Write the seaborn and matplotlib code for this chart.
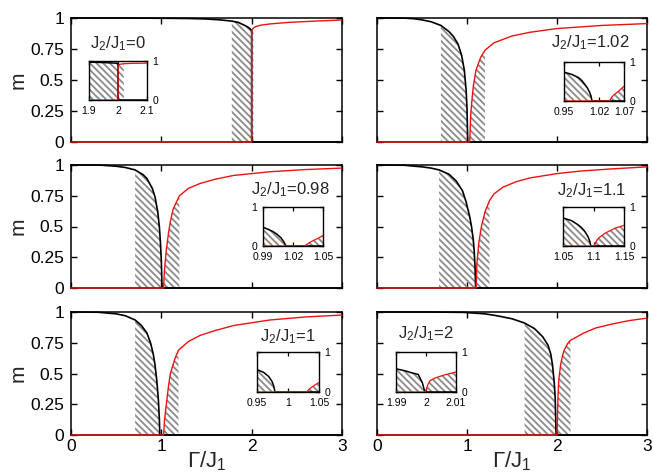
import matplotlib
matplotlib.use('Agg')
import matplotlib.pyplot as plt
import seaborn as sns
import numpy as np

# ---------------- data ----------------
ratio_labels = ['0', '1.02', '0.98', '1.1', '1', '2']
main_xticks = [0, 1, 2, 3]
main_xticklabels = ['0', '1', '2', '3']
main_yticks = [0, 0.25, 0.5, 0.75, 1]
main_yticklabels = ['0', '0.25', '0.5', '0.75', '1']

# Panel J2/J1 = 0
p1_black_x = [0.0, 0.5, 1.0, 1.3, 1.5, 1.65, 1.78, 1.85, 1.91, 1.95, 1.98, 2.0, 2.0, 3.0]
p1_black_m = [1.0, 1.0, 0.998, 0.996, 0.992, 0.985, 0.975, 0.965, 0.945, 0.93, 0.915, 0.9, 0.0, 0.0]
p1_red_x = [0.0, 2.0, 2.0, 2.005, 2.02, 2.05, 2.1, 2.2, 2.4, 2.7, 3.0]
p1_red_m = [0.0, 0.0, 0.89, 0.905, 0.92, 0.932, 0.942, 0.952, 0.964, 0.975, 0.984]
p1_hatch = [1.78, 2.02]
i1_range = [1.9, 2.0, 2.1]
i1_ticklabels = ['1.9', '2', '2.1']
i1_black_x = [1.9, 1.95, 1.98, 2.0, 2.0, 2.1]
i1_black_m = [0.97, 0.96, 0.95, 0.94, 0.0, 0.0]
i1_red_x = [1.9, 2.0, 2.0, 2.005, 2.02, 2.05, 2.1]
i1_red_m = [0.0, 0.0, 0.86, 0.915, 0.93, 0.94, 0.945]

# Panel J2/J1 = 1.02
p2_black_x = [0.0, 0.3, 0.4, 0.5, 0.6, 0.71, 0.8, 0.85, 0.9, 0.94, 0.97, 0.99, 1.0, 1.008, 3.0]
p2_black_m = [1.0, 0.999, 0.995, 0.985, 0.97, 0.94, 0.89, 0.85, 0.79, 0.7, 0.58, 0.42, 0.27, 0.0, 0.0]
p2_red_x = [0.0, 1.03, 1.04, 1.05, 1.07, 1.1, 1.15, 1.2, 1.3, 1.5, 1.7, 2.0, 2.5, 3.0]
p2_red_m = [0.0, 0.0, 0.2, 0.3, 0.45, 0.58, 0.68, 0.74, 0.8, 0.855, 0.885, 0.915, 0.94, 0.955]
p2_hatch = [0.71, 1.2]
i2_range = [0.95, 1.02, 1.07]
i2_ticklabels = ['0.95', '1.02', '1.07']
i2_black_x = [0.95, 0.966, 0.979, 0.986, 0.992, 0.997, 1.001, 1.004, 1.006, 1.07]
i2_black_m = [0.74, 0.68, 0.6, 0.52, 0.42, 0.33, 0.23, 0.13, 0.0, 0.0]
i2_red_x = [0.95, 1.041, 1.045, 1.049, 1.059, 1.07]
i2_red_m = [0.0, 0.0, 0.09, 0.15, 0.25, 0.38]

# Panel J2/J1 = 0.98
p3_black_x = [0.0, 0.3, 0.5, 0.6, 0.71, 0.8, 0.84, 0.9, 0.93, 0.96, 0.978, 0.99, 1.0, 1.008, 3.0]
p3_black_m = [1.0, 1.0, 0.99, 0.98, 0.96, 0.92, 0.89, 0.81, 0.74, 0.62, 0.5, 0.37, 0.22, 0.0, 0.0]
p3_red_x = [0.0, 1.025, 1.035, 1.055, 1.08, 1.1, 1.13, 1.2, 1.3, 1.43, 1.6, 1.8, 2.2, 2.6, 3.0]
p3_red_m = [0.0, 0.0, 0.15, 0.31, 0.45, 0.54, 0.64, 0.75, 0.81, 0.85, 0.885, 0.915, 0.945, 0.963, 0.975]
p3_hatch = [0.71, 1.2]
i3_range = [0.99, 1.02, 1.05]
i3_ticklabels = ['0.99', '1.02', '1.05']
i3_black_x = [0.99, 0.995, 1.0, 1.004, 1.008, 1.011, 1.013, 1.05]
i3_black_m = [0.48, 0.43, 0.37, 0.3, 0.21, 0.1, 0.0, 0.0]
i3_red_x = [0.99, 1.0317, 1.035, 1.038, 1.042, 1.046, 1.05]
i3_red_m = [0.0, 0.0, 0.06, 0.11, 0.16, 0.21, 0.27]

# Panel J2/J1 = 1.1
p4_black_x = [0.0, 0.3, 0.5, 0.6, 0.69, 0.8, 0.88, 0.95, 0.99, 1.03, 1.05, 1.07, 1.08, 1.09, 1.096, 3.0]
p4_black_m = [1.0, 0.998, 0.985, 0.975, 0.96, 0.925, 0.87, 0.79, 0.7, 0.58, 0.5, 0.39, 0.3, 0.16, 0.0, 0.0]
p4_red_x = [0.0, 1.101, 1.11, 1.13, 1.16, 1.2, 1.25, 1.3, 1.4, 1.55, 1.7, 2.0, 2.25, 2.6, 3.0]
p4_red_m = [0.0, 0.0, 0.2, 0.36, 0.5, 0.62, 0.71, 0.765, 0.82, 0.865, 0.895, 0.93, 0.95, 0.968, 0.985]
p4_hatch = [0.69, 1.25]
i4_range = [1.05, 1.1, 1.15]
i4_ticklabels = ['1.05', '1.1', '1.15']
i4_black_x = [1.05, 1.064, 1.075, 1.081, 1.086, 1.091, 1.094, 1.0956, 1.15]
i4_black_m = [0.72, 0.65, 0.54, 0.46, 0.37, 0.24, 0.12, 0.0, 0.0]
i4_red_x = [1.05, 1.101, 1.104, 1.108, 1.119, 1.136, 1.15]
i4_red_m = [0.0, 0.0, 0.11, 0.2, 0.33, 0.46, 0.53]

# Panel J2/J1 = 1
p5_black_x = [0.0, 0.3, 0.5, 0.6, 0.71, 0.78, 0.84, 0.88, 0.91, 0.93, 0.95, 0.967, 0.978, 0.983, 3.0]
p5_black_m = [1.0, 0.998, 0.985, 0.97, 0.935, 0.89, 0.83, 0.75, 0.66, 0.57, 0.44, 0.29, 0.13, 0.0, 0.0]
p5_red_x = [0.0, 1.025, 1.035, 1.06, 1.08, 1.1, 1.15, 1.19, 1.3, 1.43, 1.6, 1.8, 2.2, 2.6, 3.0]
p5_red_m = [0.0, 0.0, 0.12, 0.28, 0.4, 0.5, 0.62, 0.69, 0.76, 0.81, 0.85, 0.89, 0.935, 0.96, 0.975]
p5_hatch = [0.71, 1.19]
i5_range = [0.95, 1.0, 1.05]
i5_ticklabels = ['0.95', '1', '1.05']
i5_black_x = [0.95, 0.9607, 0.9687, 0.974, 0.977, 0.979, 1.05]
i5_black_m = [0.56, 0.49, 0.39, 0.27, 0.15, 0.0, 0.0]
i5_red_x = [0.95, 1.0302, 1.034, 1.038, 1.044, 1.05]
i5_red_m = [0.0, 0.0, 0.07, 0.12, 0.18, 0.24]

# Panel J2/J1 = 2
p6_black_x = [0.0, 0.6, 0.96, 1.2, 1.33, 1.5, 1.64, 1.75, 1.84, 1.9, 1.93, 1.95, 1.97, 1.98, 1.99, 3.0]
p6_black_m = [1.0, 1.0, 0.997, 0.985, 0.97, 0.945, 0.91, 0.865, 0.8, 0.73, 0.66, 0.57, 0.42, 0.3, 0.0, 0.0]
p6_red_x = [0.0, 2.0, 2.01, 2.02, 2.04, 2.06, 2.08, 2.12, 2.15, 2.3, 2.43, 2.6, 2.8, 3.0]
p6_red_m = [0.0, 0.0, 0.3, 0.45, 0.57, 0.64, 0.69, 0.745, 0.77, 0.83, 0.87, 0.9, 0.93, 0.95]
p6_hatch = [1.64, 2.15]
i6_range = [1.99, 2.0, 2.01]
i6_ticklabels = ['1.99', '2', '2.01']
i6_black_x = [1.99, 1.993, 1.9952, 1.9974, 1.998, 1.9988, 1.9994, 1.9998, 2.01]
i6_black_m = [0.58, 0.53, 0.48, 0.44, 0.35, 0.23, 0.06, 0.0, 0.0]
i6_red_x = [1.99, 1.9998, 2.0006, 2.0013, 2.003, 2.0058, 2.01]
i6_red_m = [0.0, 0.0, 0.18, 0.28, 0.35, 0.42, 0.5]

# ---------------- style ----------------
sns.set_theme(style='white')
plt.rcParams.update({
    'font.family': ['Liberation Sans', 'DejaVu Sans'],
    'mathtext.fontset': 'custom',
    'mathtext.rm': 'Liberation Sans',
    'mathtext.it': 'Liberation Sans:italic',
    'hatch.color': '#8a8a8a',
    'hatch.linewidth': 1.3,
    'axes.linewidth': 1.1,
    'axes.edgecolor': 'black',
    'xtick.color': 'black',
    'ytick.color': 'black',
})

HATCH_COLOR = '#8a8a8a'
HATCH = '\\' * 5
RED = '#ee1111'

panels = [
    dict(bx=p1_black_x, bm=p1_black_m, rx=p1_red_x, rm=p1_red_m, hatch=p1_hatch,
         irange=i1_range, itl=i1_ticklabels, ibx=i1_black_x, ibm=i1_black_m, irx=i1_red_x, irm=i1_red_m),
    dict(bx=p2_black_x, bm=p2_black_m, rx=p2_red_x, rm=p2_red_m, hatch=p2_hatch,
         irange=i2_range, itl=i2_ticklabels, ibx=i2_black_x, ibm=i2_black_m, irx=i2_red_x, irm=i2_red_m),
    dict(bx=p3_black_x, bm=p3_black_m, rx=p3_red_x, rm=p3_red_m, hatch=p3_hatch,
         irange=i3_range, itl=i3_ticklabels, ibx=i3_black_x, ibm=i3_black_m, irx=i3_red_x, irm=i3_red_m),
    dict(bx=p4_black_x, bm=p4_black_m, rx=p4_red_x, rm=p4_red_m, hatch=p4_hatch,
         irange=i4_range, itl=i4_ticklabels, ibx=i4_black_x, ibm=i4_black_m, irx=i4_red_x, irm=i4_red_m),
    dict(bx=p5_black_x, bm=p5_black_m, rx=p5_red_x, rm=p5_red_m, hatch=p5_hatch,
         irange=i5_range, itl=i5_ticklabels, ibx=i5_black_x, ibm=i5_black_m, irx=i5_red_x, irm=i5_red_m),
    dict(bx=p6_black_x, bm=p6_black_m, rx=p6_red_x, rm=p6_red_m, hatch=p6_hatch,
         irange=i6_range, itl=i6_ticklabels, ibx=i6_black_x, ibm=i6_black_m, irx=i6_red_x, irm=i6_red_m),
]

W, H = 653, 476
fig = plt.figure(figsize=(6.53, 4.76), dpi=100)
fig.patch.set_facecolor('white')


def rect(l, t, r, b):
    return [l / W, 1 - b / H, (r - l) / W, (b - t) / H]


main_rects = [(71, 18, 342, 142), (377, 18, 647, 142),
              (71, 165, 342, 288), (377, 165, 647, 288),
              (71, 312, 342, 435), (377, 312, 647, 435)]
inset_rects = [(89, 61, 147, 100), (564, 62, 624, 101),
               (263, 207, 323, 246), (563, 207, 624, 246),
               (257, 352, 319, 392), (396, 352, 456, 392)]
title_pos = [(118, 44), (590, 43), (290, 190), (592, 191), (288, 337), (426, 334)]


def draw_curves(ax, bx, bm, rx, rm, hatch, lw_b, lw_r, clip=True):
    bx = np.asarray(bx); bm = np.asarray(bm)
    rx = np.asarray(rx); rm = np.asarray(rm)
    lo, hi = hatch
    ax.fill_between(bx, 0, bm, where=bx >= lo, facecolor='none', edgecolor=HATCH_COLOR,
                    hatch=HATCH, linewidth=0, zorder=1)
    ax.fill_between(rx, 0, rm, where=rx <= hi, facecolor='none', edgecolor=HATCH_COLOR,
                    hatch=HATCH, linewidth=0, zorder=1)
    sns.lineplot(x=bx, y=bm, ax=ax, color='black', lw=lw_b, estimator=None, sort=False,
                 zorder=3, clip_on=clip)
    sns.lineplot(x=rx, y=rm, ax=ax, color=RED, lw=lw_r, estimator=None, sort=False,
                 zorder=4, clip_on=clip)


for i, p in enumerate(panels):
    ax = fig.add_axes(rect(*main_rects[i]))
    draw_curves(ax, p['bx'], p['bm'], p['rx'], p['rm'], p['hatch'], 1.2, 1.0, clip=False)
    ax.set_xlim(0, 3)
    ax.set_ylim(0, 1)
    ax.set_xticks(main_xticks)
    ax.set_yticks(main_yticks)
    bottom_row = i >= 4
    left_col = i % 2 == 0
    ax.set_xticklabels(main_xticklabels if bottom_row else [])
    ax.set_yticklabels(main_yticklabels if left_col else [])
    ax.set_xlabel('')
    ax.set_ylabel('')
    ax.tick_params(axis='both', direction='in', length=4, width=1.0, top=True, right=True,
                   bottom=True, left=True, labelsize=12.5)
    ax.tick_params(axis='x', pad=3)
    ax.tick_params(axis='y', pad=5)
    for s in ax.spines.values():
        s.set_linewidth(1.1)
        s.set_zorder(2.5)

    # inset
    a, mid, b = p['irange']
    axi = fig.add_axes(rect(*inset_rects[i]))
    axi.set_facecolor('white')
    draw_curves(axi, p['ibx'], p['ibm'], p['irx'], p['irm'], p['hatch'], 1.1, 0.9)
    axi.set_xlim(a, b)
    axi.set_ylim(0, 1)
    axi.set_xticks([a, mid, b])
    axi.set_xticklabels(p['itl'])
    axi.set_yticks([0, 1])
    axi.set_yticklabels(['0', '1'])
    axi.set_xlabel('')
    axi.set_ylabel('')
    on_left = (i == 2)
    axi.tick_params(axis='both', direction='in', length=3, width=0.9, top=True, right=True,
                    bottom=True, left=True, labelsize=7.5, pad=3,
                    labelleft=on_left, labelright=not on_left)
    axi.tick_params(axis='x', pad=4.5)
    axi.tick_params(axis='y', pad=4)
    for s in axi.spines.values():
        s.set_linewidth(1.0)

    tx, ty = title_pos[i]
    fig.text(tx / W, 1 - ty / H, r'$\mathregular{J_2/J_1}$=' + ratio_labels[i],
             ha='center', va='center', fontsize=12)

# axis labels
for yc in [80, 226.5, 373.5]:
    fig.text(18 / W, 1 - yc / H, 'm', rotation=90, ha='center', va='center', fontsize=15)
for xc in [206.5, 512]:
    fig.text(xc / W, 1 - 461 / H, r'$\mathregular{\Gamma/J_1}$', ha='center', va='center',
             fontsize=16)

fig.savefig('out.png', dpi=100, facecolor='white')
